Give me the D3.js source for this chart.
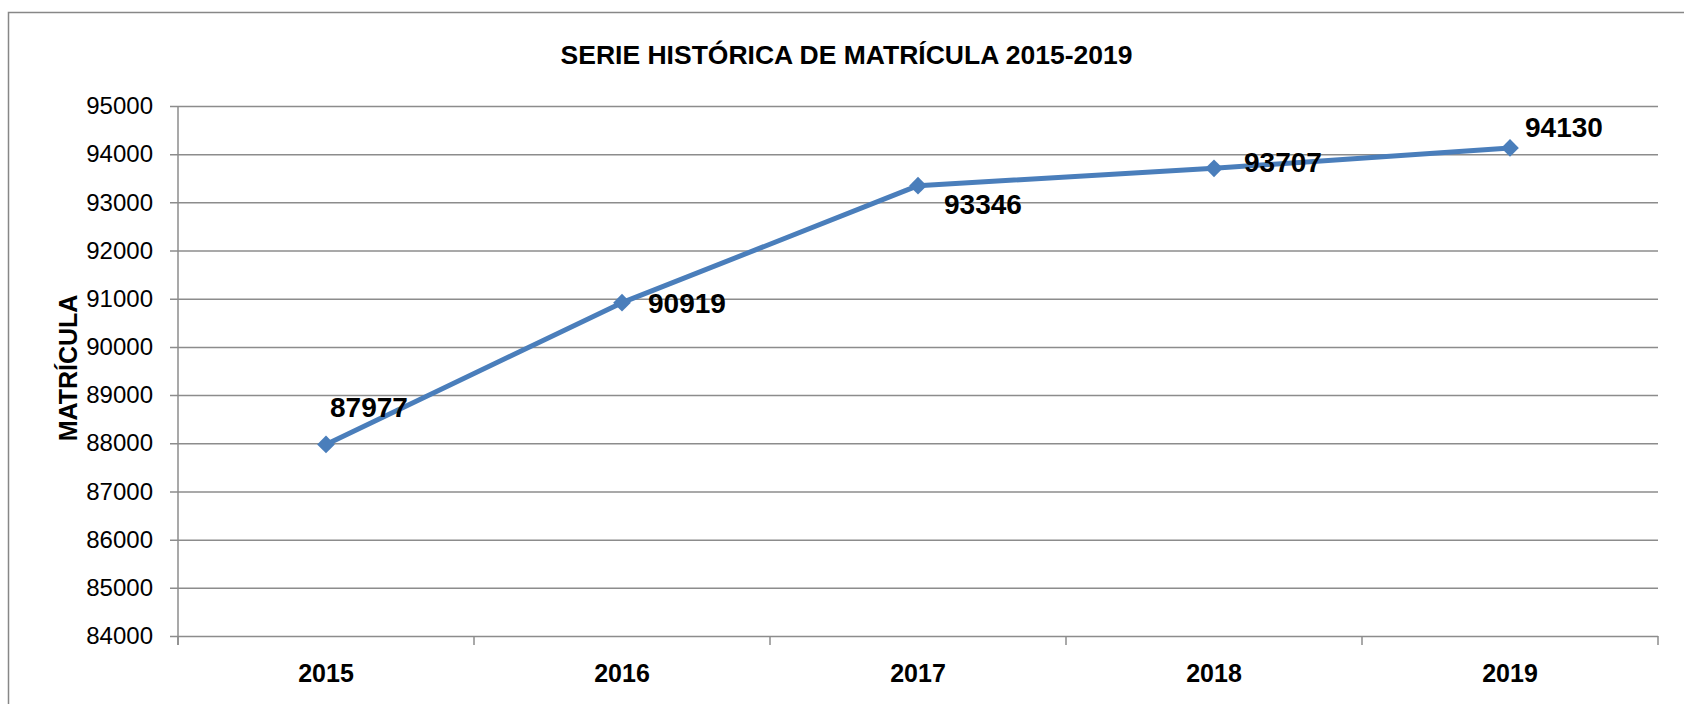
<!DOCTYPE html>
<html>
<head>
<meta charset="utf-8">
<script src="https://cdn.jsdelivr.net/npm/d3@7"></script>
<style>
  body { margin: 0; background: #fff; }
  text { font-family: "Liberation Sans", Arial, sans-serif; fill: #000; }
</style>
</head>
<body>
<div id="chart"></div>
<script>
const years = ['2015', '2016', '2017', '2018', '2019'];
const matricula = [87977, 90919, 93346, 93707, 94130];
const yTicks = [84000, 85000, 86000, 87000, 88000, 89000, 90000, 91000, 92000, 93000, 94000, 95000];
const titleText = 'SERIE HISTÓRICA DE MATRÍCULA 2015-2019';
const yTitle = 'MATRÍCULA';
// hand placed label nudges (dx, dy from the marker), as in the original
const labelNudge = [[4, -27], [26, 10], [26, 28], [30, 4], [15, -11]];

const width = 1684;
const height = 704;
const plot = {left: 178, right: 1658, top: 106, bottom: 636};
const blue = '#4a7ebb';
const grid = '#8c8c8c';

const x = d3.scaleBand()
  .domain(years)
  .range([plot.left, plot.right])
  .padding(0);

const y = d3.scaleLinear()
  .domain([d3.min(yTicks), d3.max(yTicks)])
  .range([plot.bottom, plot.top]);

const svg = d3.select('#chart').append('svg')
  .attr('width', width)
  .attr('height', height);

// chart area border (runs off the right and bottom edge)
svg.append('rect')
  .attr('x', 8.5).attr('y', 12.5)
  .attr('width', width + 20).attr('height', height + 20)
  .attr('fill', 'none')
  .attr('stroke', '#878787')
  .attr('stroke-width', 1.5);

svg.append('text')
  .attr('x', (558 + 1135) / 2)
  .attr('y', 64)
  .attr('text-anchor', 'middle')
  .style('font-size', '26.5px')
  .style('font-weight', 'bold')
  .text(titleText);

// y axis + gridlines
const yAxis = g => g
  .attr('transform', `translate(${plot.left - 8},0)`)
  .call(d3.axisLeft(y).tickValues(yTicks).tickFormat(d3.format('d'))
    .tickSize(-(plot.right - plot.left + 8)).tickPadding(17))
  .call(g => g.select('.domain').remove())
  .call(g => g.selectAll('.tick line').attr('stroke', grid).attr('stroke-width', 1.5))
  .call(g => g.selectAll('.tick text')
    .style('font-size', '24px')
    .style('font-family', '"Liberation Sans", Arial, sans-serif')
    .attr('fill', '#000'));

svg.append('g').call(yAxis);

svg.append('line')
  .attr('x1', plot.left).attr('x2', plot.left)
  .attr('y1', plot.top).attr('y2', plot.bottom + 9)
  .attr('stroke', grid).attr('stroke-width', 1.5);

// x axis: ticks on category boundaries, labels centred
const bounds = years.map(d => x(d)).concat([plot.right]);
svg.append('g').selectAll('line')
  .data(bounds)
  .join('line')
  .attr('x1', d => d).attr('x2', d => d)
  .attr('y1', plot.bottom).attr('y2', plot.bottom + 9)
  .attr('stroke', grid).attr('stroke-width', 1.5);

svg.append('g').selectAll('text')
  .data(years)
  .join('text')
  .attr('x', d => x(d) + x.bandwidth() / 2)
  .attr('y', 682)
  .attr('text-anchor', 'middle')
  .style('font-size', '25px')
  .style('font-weight', 'bold')
  .text(d => d);

svg.append('text')
  .attr('transform', 'translate(77,368) rotate(-90)')
  .attr('text-anchor', 'middle')
  .style('font-size', '25px')
  .style('font-weight', 'bold')
  .text(yTitle);

const points = years.map((d, i) => ({year: d, value: matricula[i], nudge: labelNudge[i]}));
const px = d => x(d.year) + x.bandwidth() / 2;

const line = d3.line()
  .x(px)
  .y(d => y(d.value));

svg.append('path')
  .datum(points)
  .attr('fill', 'none')
  .attr('stroke', blue)
  .attr('stroke-width', 5)
  .attr('stroke-linejoin', 'round')
  .attr('d', line);

svg.append('g').selectAll('path')
  .data(points)
  .join('path')
  .attr('transform', d => `translate(${px(d)},${y(d.value)})`)
  .attr('d', d3.symbol(d3.symbolDiamond2, 200))
  .attr('fill', blue);

svg.append('g').selectAll('text')
  .data(points)
  .join('text')
  .attr('x', d => px(d) + d.nudge[0])
  .attr('y', d => y(d.value) + d.nudge[1])
  .style('font-size', '28px')
  .style('font-weight', 'bold')
  .text(d => d.value);
</script>
</body>
</html>
